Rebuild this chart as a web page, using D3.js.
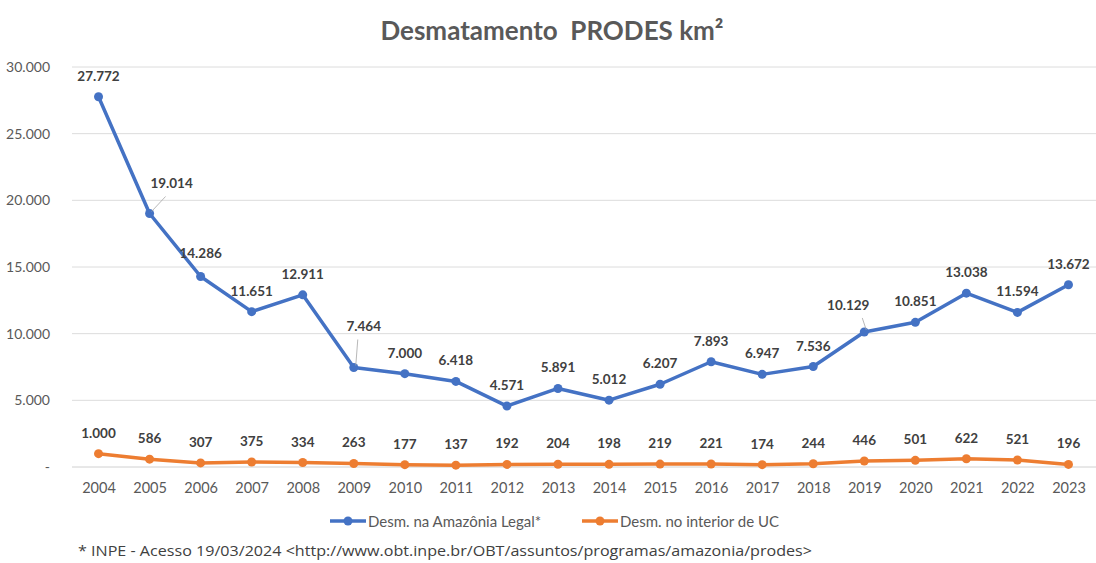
<!DOCTYPE html>
<html>
<head>
<meta charset="utf-8">
<script src="https://cdn.jsdelivr.net/npm/d3@7"></script>
<style>
  body { margin: 0; background: #fff; }
  svg { display: block; font-family: Lato, "Open Sans", sans-serif; }
</style>
</head>
<body>
<div id="chart"></div>
<script>
const years = ["2004","2005","2006","2007","2008","2009","2010","2011","2012","2013",
               "2014","2015","2016","2017","2018","2019","2020","2021","2022","2023"];
const amazonia = [27772,19014,14286,11651,12911,7464,7000,6418,4571,5891,
                  5012,6207,7893,6947,7536,10129,10851,13038,11594,13672];
const interiorUC = [1000,586,307,375,334,263,177,137,192,204,
                    198,219,221,174,244,446,501,622,521,196];
const yTicks = [0,5000,10000,15000,20000,25000,30000];
const seriesNames = ["Desm. na Amazônia Legal*", "Desm. no interior de UC"];

const W = 1096, H = 563;
const margin = {top: 67, right: 2, bottom: 96, left: 73};
const BLUE = "#4472C4", ORANGE = "#ED7D31";

const fmt = v => v === 0 ? "-" : d3.format(",")(v).replace(/,/g, ".");

const svg = d3.select("#chart").append("svg")
  .attr("width", W).attr("height", H);

const x = d3.scalePoint().domain(years)
  .range([margin.left, W - margin.right]).padding(0.5);
const y = d3.scaleLinear().domain([0, 30000])
  .range([H - margin.bottom, margin.top]);

// title (two spaces between words like the original)
svg.append("text")
  .attr("x", 552).attr("y", 40)
  .attr("text-anchor", "middle")
  .attr("font-size", 26).attr("font-weight", "bold")
  .attr("fill", "#595959")
  .attr("xml:space", "preserve")
  .text("Desmatamento  PRODES km²");

// gridlines
svg.append("g")
  .selectAll("line").data(yTicks).join("line")
    .attr("x1", margin.left - 1).attr("x2", W)
    .attr("y1", d => y(d)).attr("y2", d => y(d))
    .attr("stroke", d => d === 0 ? "#d0d0d0" : "#dcdcdc").attr("stroke-width", 1);

// y axis labels
const yAxis = svg.append("g")
  .attr("transform", `translate(${margin.left - 20},0)`)
  .call(d3.axisLeft(y).tickValues(yTicks).tickFormat(fmt).tickSize(0));
yAxis.select(".domain").remove();
yAxis.selectAll("text").attr("font-size", 14).attr("fill", "#595959")
  .attr("font-family", "Lato, sans-serif");

// x axis labels
const xAxis = svg.append("g")
  .attr("transform", `translate(0,${y(0) + 13})`)
  .call(d3.axisBottom(x).tickSize(0));
xAxis.select(".domain").remove();
xAxis.selectAll("text").attr("font-size", 14.5).attr("fill", "#595959")
  .attr("font-family", "Lato, sans-serif");

// label nudges for the ones Excel moved with leader lines
const nudge = {
  amazonia: {"2005": [22, -25, true], "2006": [0, -19], "2009": [10, -36, true], "2019": [-16, -22, true]},
  uc: {}
};

function drawSeries(values, color, key) {
  const pts = years.map((yr, i) => ({yr, v: values[i]}));
  const line = d3.line().x(d => x(d.yr)).y(d => y(d.v));
  const g = svg.append("g");
  g.append("path").datum(pts)
    .attr("d", line).attr("fill", "none")
    .attr("stroke", color).attr("stroke-width", 3.5)
    .attr("stroke-linejoin", "round").attr("stroke-linecap", "round");
  g.selectAll("circle").data(pts).join("circle")
    .attr("cx", d => x(d.yr)).attr("cy", d => y(d.v))
    .attr("r", 4.5).attr("fill", color);

  pts.forEach(d => {
    const n = nudge[key][d.yr] || [0, -16];
    const lx = x(d.yr) + n[0], ly = y(d.v) + n[1];
    if (n[2]) {
      g.append("line")
        .attr("x1", x(d.yr) + 2).attr("y1", y(d.v) - 2)
        .attr("x2", lx - (n[0] > 0 ? 6 : -14)).attr("y2", ly + 8)
        .attr("stroke", "#a6a6a6").attr("stroke-width", 0.8);
    }
    g.append("text")
      .attr("x", lx).attr("y", ly)
      .attr("text-anchor", "middle")
      .attr("font-size", 13.5).attr("font-weight", "bold")
      .attr("fill", "#404040")
      .text(fmt(d.v));
  });
}

drawSeries(amazonia, BLUE, "amazonia");
drawSeries(interiorUC, ORANGE, "uc");

// legend
const legend = svg.append("g").attr("transform", "translate(0,521)");
[[BLUE, seriesNames[0], 330], [ORANGE, seriesNames[1], 582]].forEach(([c, name, lx]) => {
  legend.append("line").attr("x1", lx).attr("x2", lx + 36)
    .attr("y1", 0).attr("y2", 0).attr("stroke", c).attr("stroke-width", 3.5);
  legend.append("circle").attr("cx", lx + 18).attr("cy", 0).attr("r", 4.5).attr("fill", c);
  legend.append("text").attr("x", lx + 38).attr("y", 5.5)
    .attr("font-size", 15).attr("fill", "#595959").text(name);
});

// footnote
svg.append("text")
  .attr("x", 78).attr("y", 556)
  .attr("font-size", 15).attr("fill", "#404040")
  .attr("font-family", "'Open Sans', sans-serif")
  .attr("textLength", 734).attr("lengthAdjust", "spacingAndGlyphs")
  .text("* INPE - Acesso 19/03/2024 <http://www.obt.inpe.br/OBT/assuntos/programas/amazonia/prodes>");
</script>
</body>
</html>
